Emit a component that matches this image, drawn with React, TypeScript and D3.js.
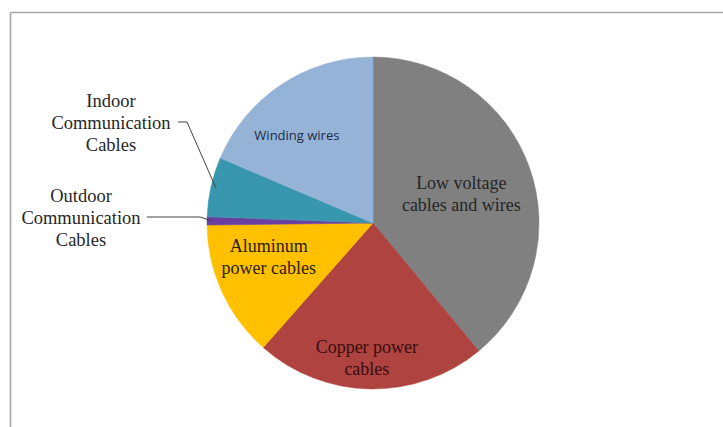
import React from "react";
import * as d3 from "d3";

const categories = [
  "Low voltage cables and wires",
  "Copper power cables",
  "Aluminum power cables",
  "Outdoor Communication Cables",
  "Indoor Communication Cables",
  "Winding wires",
];
const values = [39, 22.5, 13.3, 0.8, 5.8, 18.6];
const colors = ["#808080", "#AE4340", "#FFC000", "#6B3FA0", "#3896AE", "#95B3D7"];
const labelLines = [
  ["Low voltage", "cables and wires"],
  ["Copper power", "cables"],
  ["Aluminum", "power cables"],
  ["Outdoor", "Communication", "Cables"],
  ["Indoor", "Communication", "Cables"],
  ["Winding wires"],
];

const W = 723;
const H = 427;
const cx = 373;
const cy = 223;
const R = 166;

export default function App() {
  const pie = d3
    .pie<number>()
    .sort(null)
    .value((d) => d)
    .startAngle(0)
    .endAngle(2 * Math.PI);
  const arcs = pie(values);
  const arc = d3.arc<d3.PieArcDatum<number>>().innerRadius(0).outerRadius(R);

  const polar = (a: number, r: number): [number, number] => [
    Math.sin(a) * r,
    -Math.cos(a) * r,
  ];

  const serif = "'Liberation Serif', 'Times New Roman', serif";

  const inside: Record<number, { rf: number; da: number; fill: string; font: string; size: number; lh: number; weight: number }> = {
    0: { rf: 0.56, da: 0.03, fill: "#262626", font: serif, size: 18, lh: 22, weight: 400 },
    1: { rf: 0.81, da: 0.03, fill: "#3a0c0c", font: serif, size: 18, lh: 22, weight: 400 },
    2: { rf: 0.66, da: 0.12, fill: "#2b2000", font: serif, size: 18, lh: 22, weight: 400 },
    5: { rf: 0.7, da: -0.13, fill: "#1c2a45", font: "'Open Sans', 'Liberation Sans', sans-serif", size: 13, lh: 16, weight: 400 },
  };

  const outside: Record<number, { tx: number; ty: number; lx: number; ly: number; kx: number }> = {
    4: { tx: 111, ty: 101, lx: 178, ly: 122, kx: 187 },
    3: { tx: 81, ty: 196, lx: 147, ly: 217, kx: 200 },
  };

  return (
    <svg
      width={W}
      height={H}
      style={{ position: "fixed", left: 0, top: 0, background: "#fff" }}
    >
      <rect x={0} y={0} width={W} height={H} fill="#fff" />
      <line x1={10.5} y1={12.5} x2={W} y2={12.5} stroke="#a6a6a6" strokeWidth={1.6} />
      <line x1={10.5} y1={12.5} x2={10.5} y2={H} stroke="#a6a6a6" strokeWidth={1.6} />
      <g transform={`translate(${cx},${cy})`}>
        {arcs.map((a, i) => (
          <path key={i} d={arc(a) || ""} fill={colors[i]} stroke={colors[i]} strokeWidth={0.5} />
        ))}
        {arcs.map((a, i) => {
          const cfg = inside[i];
          if (!cfg) return null;
          const mid = (a.startAngle + a.endAngle) / 2 + cfg.da;
          const [x, y] = polar(mid, R * cfg.rf);
          const lines = labelLines[i];
          const y0 = y - ((lines.length - 1) * cfg.lh) / 2;
          return (
            <text
              key={"l" + i}
              textAnchor="middle"
              fontFamily={cfg.font}
              fontSize={cfg.size}
              fontWeight={cfg.weight}
              fill={cfg.fill}
            >
              {lines.map((t, j) => (
                <tspan key={j} x={x} y={y0 + j * cfg.lh} dy="0.35em">
                  {t}
                </tspan>
              ))}
            </text>
          );
        })}
      </g>
      {arcs.map((a, i) => {
        const cfg = outside[i];
        if (!cfg) return null;
        const mid = (a.startAngle + a.endAngle) / 2;
        const [ex, ey] = polar(mid, R * 0.97);
        const lines = labelLines[i];
        return (
          <g key={"o" + i}>
            <polyline
              points={`${cfg.lx},${cfg.ly} ${cfg.kx},${cfg.ly} ${cx + ex},${cy + ey}`}
              fill="none"
              stroke="#404040"
              strokeWidth={1}
            />
            <text textAnchor="middle" fontFamily={serif} fontSize={18.5} fill="#262626">
              {lines.map((t, j) => (
                <tspan key={j} x={cfg.tx} y={cfg.ty + j * 22} dy="0.35em">
                  {t}
                </tspan>
              ))}
            </text>
          </g>
        );
      })}
    </svg>
  );
}
